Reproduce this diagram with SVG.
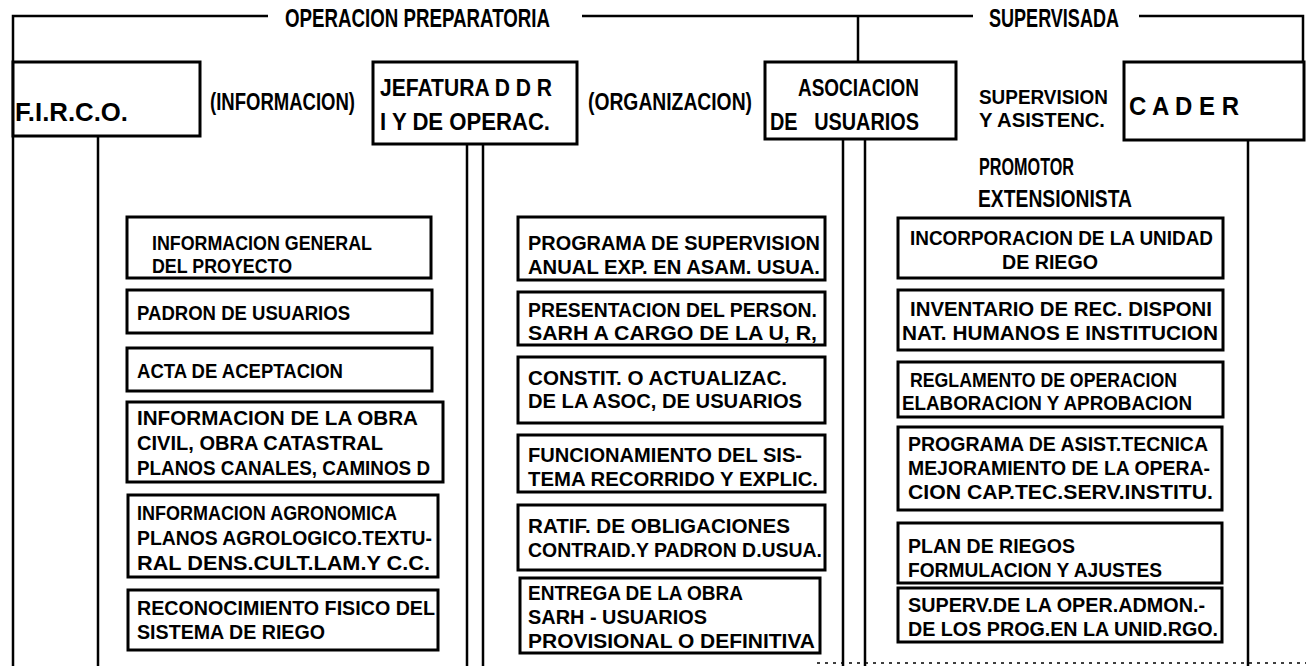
<svg xmlns="http://www.w3.org/2000/svg" width="1306" height="666" viewBox="0 0 1306 666">
<style>
  .bg{fill:#ffffff}
  .box{fill:#ffffff;stroke:#000;stroke-width:3}
  .ln{fill:none;stroke:#000;stroke-width:2.5}
  .dot{fill:none;stroke:#000;stroke-width:1.5;stroke-dasharray:3 5}
  text{font-family:"Liberation Sans",Arial,sans-serif;font-weight:bold;fill:#000}
  .h{font-size:26px}
  .m{font-size:24px}
  .s{font-size:21px}
  .t{font-size:20.5px}
  .pre{white-space:pre}
</style>
<rect class="bg" x="0" y="0" width="1306" height="666"/>

<g id="connectors">
  <path class="ln" d="M13,666 V16 H268"/>
  <path class="ln" d="M582,16 H973"/>
  <path class="ln" d="M1139,16 H1303 V62"/>
  <path class="ln" d="M858,16 V62"/>
  <path class="ln" d="M98,136 V666"/>
  <path class="ln" d="M467,144 V666"/>
  <path class="ln" d="M483,144 V666"/>
  <path class="ln" d="M843,139 V666"/>
  <path class="ln" d="M865,139 V666"/>
  <path class="ln" d="M1248,140 V666"/>
  <path class="dot" d="M817,663 H1306"/>
</g>

<g id="headings">
  <text class="h" x="285" y="27" textLength="265" lengthAdjust="spacingAndGlyphs">OPERACION PREPARATORIA</text>
  <text class="h" x="989" y="27" textLength="130" lengthAdjust="spacingAndGlyphs">SUPERVISADA</text>
  <text class="m" x="210" y="110" textLength="145" lengthAdjust="spacingAndGlyphs">(INFORMACION)</text>
  <text class="m" x="588" y="110" textLength="164" lengthAdjust="spacingAndGlyphs">(ORGANIZACION)</text>
  <text class="s" x="979" y="104" textLength="129" lengthAdjust="spacingAndGlyphs">SUPERVISION</text>
  <text class="s" x="979" y="127" textLength="126" lengthAdjust="spacingAndGlyphs">Y ASISTENC.</text>
  <text class="m" x="979" y="175" textLength="95" lengthAdjust="spacingAndGlyphs">PROMOTOR</text>
  <text class="m" x="978" y="207" textLength="154" lengthAdjust="spacingAndGlyphs">EXTENSIONISTA</text>
</g>

<g id="firco">
  <rect class="box" x="13" y="62" width="187" height="74"/>
  <text class="h" x="15" y="121" textLength="113" lengthAdjust="spacingAndGlyphs">F.I.R.C.O.</text>
</g>
<g id="jefatura">
  <rect class="box" x="373" y="62" width="204" height="82"/>
  <text class="m" x="380" y="96" textLength="172" lengthAdjust="spacingAndGlyphs">JEFATURA D D R</text>
  <text class="m" x="380" y="130" textLength="170" lengthAdjust="spacingAndGlyphs">I Y DE OPERAC.</text>
</g>
<g id="asociacion">
  <rect class="box" x="765" y="62" width="191" height="77"/>
  <text class="m" x="798" y="96" textLength="121" lengthAdjust="spacingAndGlyphs">ASOCIACION</text>
  <text class="m pre" x="770" y="130" xml:space="preserve" textLength="149" lengthAdjust="spacingAndGlyphs">DE   USUARIOS</text>
</g>
<g id="cader">
  <rect class="box" x="1124" y="62" width="180" height="78"/>
  <text class="h" x="1129" y="115" textLength="110" lengthAdjust="spacingAndGlyphs">C A D E R</text>
</g>

<g id="l1"><rect class="box" x="127" y="217" width="304" height="61"/>
  <text class="t" x="152" y="250" textLength="220" lengthAdjust="spacingAndGlyphs">INFORMACION GENERAL</text>
  <text class="t" x="152" y="273" textLength="140" lengthAdjust="spacingAndGlyphs">DEL PROYECTO</text></g>
<g id="l2"><rect class="box" x="127" y="290" width="305" height="43"/>
  <text class="t" x="137" y="320" textLength="213" lengthAdjust="spacingAndGlyphs">PADRON DE USUARIOS</text></g>
<g id="l3"><rect class="box" x="127" y="348" width="305" height="43"/>
  <text class="t" x="137" y="378" textLength="206" lengthAdjust="spacingAndGlyphs">ACTA DE ACEPTACION</text></g>
<g id="l4"><rect class="box" x="127" y="402" width="316" height="80"/>
  <text class="t" x="137" y="425" textLength="281" lengthAdjust="spacingAndGlyphs">INFORMACION DE LA OBRA</text>
  <text class="t" x="137" y="450" textLength="246" lengthAdjust="spacingAndGlyphs">CIVIL, OBRA CATASTRAL</text>
  <text class="t" x="137" y="475" textLength="293" lengthAdjust="spacingAndGlyphs">PLANOS CANALES, CAMINOS D</text></g>
<g id="l5"><rect class="box" x="128" y="495" width="310" height="82"/>
  <text class="t" x="137" y="520" textLength="260" lengthAdjust="spacingAndGlyphs">INFORMACION AGRONOMICA</text>
  <text class="t" x="137" y="545" textLength="295" lengthAdjust="spacingAndGlyphs">PLANOS AGROLOGICO.TEXTU-</text>
  <text class="t" x="137" y="570" textLength="293" lengthAdjust="spacingAndGlyphs">RAL DENS.CULT.LAM.Y C.C.</text></g>
<g id="l6"><rect class="box" x="128" y="590" width="310" height="60"/>
  <text class="t" x="137" y="615" textLength="298" lengthAdjust="spacingAndGlyphs">RECONOCIMIENTO FISICO DEL</text>
  <text class="t" x="137" y="639" textLength="188" lengthAdjust="spacingAndGlyphs">SISTEMA DE RIEGO</text></g>

<g id="m1"><rect class="box" x="518" y="217" width="307" height="63"/>
  <text class="t" x="528" y="250" textLength="292" lengthAdjust="spacingAndGlyphs">PROGRAMA DE SUPERVISION</text>
  <text class="t" x="528" y="274" textLength="292" lengthAdjust="spacingAndGlyphs">ANUAL EXP. EN ASAM. USUA.</text></g>
<g id="m2"><rect class="box" x="518" y="292" width="307" height="53"/>
  <text class="t" x="528" y="317" textLength="289" lengthAdjust="spacingAndGlyphs">PRESENTACION DEL PERSON.</text>
  <text class="t" x="528" y="340" textLength="289" lengthAdjust="spacingAndGlyphs">SARH A CARGO DE LA U, R,</text></g>
<g id="m3"><rect class="box" x="518" y="357" width="307" height="66"/>
  <text class="t" x="528" y="385" textLength="259" lengthAdjust="spacingAndGlyphs">CONSTIT. O ACTUALIZAC.</text>
  <text class="t" x="528" y="408" textLength="274" lengthAdjust="spacingAndGlyphs">DE LA ASOC, DE USUARIOS</text></g>
<g id="m4"><rect class="box" x="518" y="435" width="307" height="57"/>
  <text class="t" x="528" y="462" textLength="274" lengthAdjust="spacingAndGlyphs">FUNCIONAMIENTO DEL SIS-</text>
  <text class="t" x="528" y="486" textLength="290" lengthAdjust="spacingAndGlyphs">TEMA RECORRIDO Y EXPLIC.</text></g>
<g id="m5"><rect class="box" x="518" y="505" width="307" height="65"/>
  <text class="t" x="528" y="533" textLength="262" lengthAdjust="spacingAndGlyphs">RATIF. DE OBLIGACIONES</text>
  <text class="t" x="528" y="557" textLength="294" lengthAdjust="spacingAndGlyphs">CONTRAID.Y PADRON D.USUA.</text></g>
<g id="m6"><rect class="box" x="520" y="578" width="300" height="75"/>
  <text class="t" x="528" y="600" textLength="215" lengthAdjust="spacingAndGlyphs">ENTREGA DE LA OBRA</text>
  <text class="t" x="528" y="624" textLength="179" lengthAdjust="spacingAndGlyphs">SARH - USUARIOS</text>
  <text class="t" x="528" y="648" textLength="287" lengthAdjust="spacingAndGlyphs">PROVISIONAL O DEFINITIVA</text></g>

<g id="r1"><rect class="box" x="898" y="218" width="325" height="60"/>
  <text class="t" x="910" y="245" textLength="303" lengthAdjust="spacingAndGlyphs">INCORPORACION DE LA UNIDAD</text>
  <text class="t" x="1002" y="269" textLength="96" lengthAdjust="spacingAndGlyphs">DE RIEGO</text></g>
<g id="r2"><rect class="box" x="898" y="290" width="325" height="60"/>
  <text class="t" x="910" y="316" textLength="302" lengthAdjust="spacingAndGlyphs">INVENTARIO DE REC. DISPONI</text>
  <text class="t" x="902" y="340" textLength="316" lengthAdjust="spacingAndGlyphs">NAT. HUMANOS E INSTITUCION</text></g>
<g id="r3"><rect class="box" x="898" y="362" width="325" height="55"/>
  <text class="t" x="910" y="387" textLength="267" lengthAdjust="spacingAndGlyphs">REGLAMENTO DE OPERACION</text>
  <text class="t" x="902" y="410" textLength="290" lengthAdjust="spacingAndGlyphs">ELABORACION Y APROBACION</text></g>
<g id="r4"><rect class="box" x="898" y="427" width="324" height="83"/>
  <text class="t" x="908" y="451" textLength="300" lengthAdjust="spacingAndGlyphs">PROGRAMA DE ASIST.TECNICA</text>
  <text class="t" x="908" y="475" textLength="302" lengthAdjust="spacingAndGlyphs">MEJORAMIENTO DE LA OPERA-</text>
  <text class="t" x="908" y="499" textLength="305" lengthAdjust="spacingAndGlyphs">CION CAP.TEC.SERV.INSTITU.</text></g>
<g id="r5"><rect class="box" x="898" y="523" width="324" height="60"/>
  <text class="t" x="908" y="553" textLength="167" lengthAdjust="spacingAndGlyphs">PLAN DE RIEGOS</text>
  <text class="t" x="908" y="577" textLength="254" lengthAdjust="spacingAndGlyphs">FORMULACION Y AJUSTES</text></g>
<g id="r6"><rect class="box" x="898" y="588" width="324" height="54"/>
  <text class="t" x="908" y="612" textLength="297" lengthAdjust="spacingAndGlyphs">SUPERV.DE LA OPER.ADMON.-</text>
  <text class="t" x="908" y="636" textLength="310" lengthAdjust="spacingAndGlyphs">DE LOS PROG.EN LA UNID.RGO.</text></g>
</svg>
